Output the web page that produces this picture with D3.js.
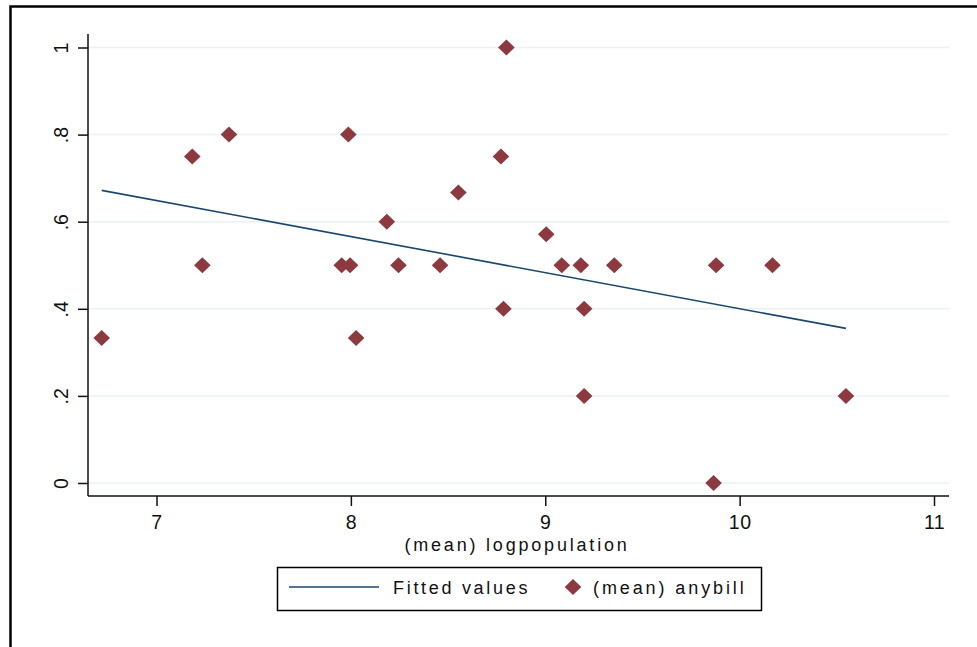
<!DOCTYPE html>
<html>
<head>
<meta charset="utf-8">
<script src="https://cdn.jsdelivr.net/npm/d3@7"></script>
<style>
  html, body { margin: 0; padding: 0; background: #fff; }
  svg { display: block; }
  text { font-family: "Liberation Sans", Arial, sans-serif; fill: #111; }
</style>
</head>
<body>
<svg id="chart" width="977" height="647"></svg>
<script>
// Scatter of mean anybill against mean log population, with fitted line
const logPopulation = [6.718, 7.184, 7.236, 7.373, 7.953, 7.987, 7.996, 8.027, 8.185, 8.245,
                       8.459, 8.553, 8.772, 8.800, 8.785, 9.005, 9.085, 9.183, 9.200, 9.200,
                       9.355, 9.866, 9.879, 10.169, 10.547];
const anyBill = [0.333, 0.75, 0.5, 0.8, 0.5, 0.8, 0.5, 0.333, 0.6, 0.5,
                 0.5, 0.667, 0.75, 1.0, 0.4, 0.571, 0.5, 0.5, 0.4, 0.2,
                 0.5, 0.0, 0.5, 0.5, 0.2];

// Fitted values at the ends of the observed range
const fitX = [6.718, 10.547];
const fitY = [0.672, 0.355];

const xTicks = [7, 8, 9, 10, 11];
const yTicks = [0, 0.2, 0.4, 0.6, 0.8, 1];
const yTickLabels = ["0", ".2", ".4", ".6", ".8", "1"];

const xTitle = "(mean) logpopulation";
const legendLabels = ["Fitted values", "(mean) anybill"];

const colors = { fit: "#1a476f", point: "#8c3a3f", grid: "#eaf2f3", axis: "#111" };

const svg = d3.select("#chart");

// outer graph frame
svg.append("rect")
  .attr("x", 10.5).attr("y", 6.5)
  .attr("width", 1000).attr("height", 700)
  .attr("fill", "#fff").attr("stroke", "#000").attr("stroke-width", 2.5);

const plot = { left: 88, right: 949, top: 34, bottom: 496 };

const x = d3.scaleLinear().domain([7, 11]).range([156.5, 934]);
const y = d3.scaleLinear().domain([0, 1]).range([483, 47.5]);

// gridlines
svg.append("g").selectAll("line").data(yTicks).join("line")
  .attr("x1", plot.left).attr("x2", plot.right)
  .attr("y1", d => y(d)).attr("y2", d => y(d))
  .attr("stroke", colors.grid).attr("stroke-width", 1.5);

// y axis
const yAxis = svg.append("g")
  .attr("transform", `translate(${plot.left},0)`)
  .call(d3.axisLeft(y).tickValues(yTicks).tickSize(10).tickSizeOuter(0)
        .tickFormat((d, i) => yTickLabels[i]));
yAxis.select(".domain").remove();
yAxis.selectAll(".tick line").attr("stroke", colors.axis).attr("stroke-width", 1.5);
yAxis.selectAll(".tick text")
  .attr("x", 0).attr("y", 0).attr("dy", 0)
  .attr("transform", "translate(-20,0) rotate(-90)")
  .attr("text-anchor", "middle")
  .style("font-size", "19.5px")
  .style("font-family", "'Liberation Sans', Arial, sans-serif")
  .attr("fill", "#111");
svg.append("line")
  .attr("x1", plot.left).attr("x2", plot.left)
  .attr("y1", plot.top).attr("y2", plot.bottom)
  .attr("stroke", colors.axis).attr("stroke-width", 1.5);

// x axis
const xAxis = svg.append("g")
  .attr("transform", `translate(0,${plot.bottom})`)
  .call(d3.axisBottom(x).tickValues(xTicks).tickSize(10).tickSizeOuter(0)
        .tickFormat(d3.format("d")));
xAxis.select(".domain").remove();
xAxis.selectAll(".tick line").attr("stroke", colors.axis).attr("stroke-width", 1.5);
xAxis.selectAll(".tick text")
  .attr("y", 0).attr("dy", 0)
  .attr("transform", "translate(0,33)")
  .style("font-size", "19.5px")
  .style("letter-spacing", "0.5px")
  .style("font-family", "'Liberation Sans', Arial, sans-serif")
  .attr("fill", "#111");
svg.append("line")
  .attr("x1", plot.left).attr("x2", plot.right)
  .attr("y1", plot.bottom).attr("y2", plot.bottom)
  .attr("stroke", colors.axis).attr("stroke-width", 1.5);

// x axis title
svg.append("text")
  .attr("x", 517).attr("y", 551)
  .attr("text-anchor", "middle")
  .style("font-size", "18px")
  .style("letter-spacing", "2.8px")
  .text(xTitle);

// fitted line
svg.append("path")
  .datum(fitX.map((d, i) => [d, fitY[i]]))
  .attr("d", d3.line().x(d => x(d[0])).y(d => y(d[1])))
  .attr("fill", "none").attr("stroke", colors.fit).attr("stroke-width", 1.6);

// diamond markers
const diamond = (cx, cy) => `M${cx},${cy - 8}L${cx + 8.3},${cy}L${cx},${cy + 8}L${cx - 8.3},${cy}Z`;
svg.append("g").selectAll("path").data(logPopulation.map((d, i) => [d, anyBill[i]])).join("path")
  .attr("d", d => diamond(x(d[0]), y(d[1])))
  .attr("fill", colors.point);

// legend
const legend = svg.append("g");
legend.append("rect")
  .attr("x", 277.5).attr("y", 567.5).attr("width", 484).attr("height", 43)
  .attr("fill", "#fff").attr("stroke", "#000").attr("stroke-width", 1.5);
legend.append("line")
  .attr("x1", 289).attr("x2", 379).attr("y1", 587).attr("y2", 587)
  .attr("stroke", colors.fit).attr("stroke-width", 1.6);
legend.append("text")
  .attr("x", 393).attr("y", 594)
  .style("font-size", "18px").style("letter-spacing", "2.7px")
  .text(legendLabels[0]);
legend.append("path")
  .attr("d", diamond(573, 587))
  .attr("fill", colors.point);
legend.append("text")
  .attr("x", 593).attr("y", 594)
  .style("font-size", "18px").style("letter-spacing", "2.9px")
  .text(legendLabels[1]);
</script>
</body>
</html>
